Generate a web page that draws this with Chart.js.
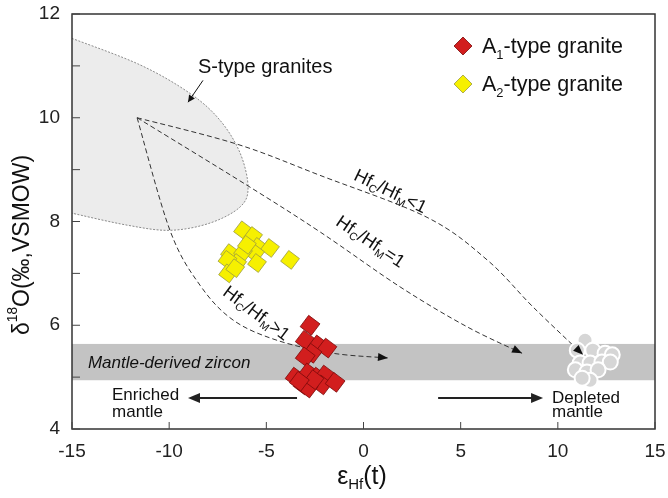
<!DOCTYPE html>
<html>
<head>
<meta charset="utf-8">
<script src="https://cdn.jsdelivr.net/npm/chart.js@4.4.0/dist/chart.umd.min.js"></script>
<style>
  html, body { margin: 0; padding: 0; background: #fff; }
  #wrap { width: 668px; height: 498px; }
</style>
</head>
<body>
<div id="wrap"><canvas id="chart" width="668" height="498"></canvas></div>
<script>
// A1-type granite zircons
const a1Hf = [-2.75, -3.0, -2.34, -1.88, -2.65, -3.0, -3.52, -2.85, -2.39, -1.98, -3.1, -2.13, -1.46, -2.85, -2.55, -3.3];
const a1O  = [6.0, 5.71, 5.62, 5.56, 5.46, 5.39, 5.0, 5.08, 5.0, 5.04, 4.85, 4.85, 4.9, 4.79, 4.95, 4.92];
// A2-type granite zircons
const a2Hf = [-6.2, -5.68, -5.43, -4.81, -5.58, -6.87, -6.2, -6.5, -5.48, -7.0, -6.97, -6.6, -3.78, -6.0];
const a2O  = [7.83, 7.72, 7.51, 7.49, 7.39, 7.39, 7.41, 7.2, 7.2, 7.26, 7.0, 7.1, 7.26, 7.55];
// depleted mantle zircons
const mantleHf = [11.4, 11.0, 11.8, 12.43, 12.8, 11.15, 11.66, 12.27, 12.7, 10.9, 11.5, 12.07, 11.66, 11.25];
const mantleO  = [5.71, 5.52, 5.52, 5.46, 5.43, 5.27, 5.27, 5.29, 5.29, 5.14, 5.1, 5.14, 4.94, 4.98];

// axes
const xTicks = [-15, -10, -5, 0, 5, 10, 15];
const yTicks = [4, 6, 8, 10, 12];
const yMinor = [5, 7, 9, 11];

// mantle-derived zircon band (d18O range)
const bandO = [4.94, 5.64];

// S-type granite field outline
const sTypeHf = [-15, -11.5, -8.93, -7.38, -6.35, -5.94, -6.35, -7.9, -9.96, -12.17, -15];
const sTypeO  = [11.53, 11.02, 10.47, 9.95, 9.32, 8.66, 8.28, 7.97, 7.83, 7.93, 8.16];

// mixing curves from the crustal end-member
const curveLtHf = [-11.65, -6.5, -2.24, 3.27, 6.36, 8.73, 11.3];
const curveLtO  = [10.0, 9.49, 8.89, 8.08, 7.26, 6.35, 5.43];
const curveEqHf = [-11.65, -6.0, -2.24, 1.88, 5.33, 8.16];
const curveEqO  = [10.0, 8.70, 7.80, 6.74, 5.97, 5.46];
const curveGtHf = [-11.65, -9.96, -8.41, -6.71, -4.45, -1.57, 1.26];
const curveGtO  = [10.0, 7.83, 6.77, 6.10, 5.71, 5.46, 5.37];

// enriched / depleted direction arrows [start, tip] in eHf, at d18O = arrowO
const enrichedArrow = [-3.42, -9.03];
const depletedArrow = [3.84, 9.24];
const arrowO = 4.6;

const FONT = '"Liberation Sans", Arial, sans-serif';

const pts = (xs, ys) => xs.map((x, i) => ({ x: x, y: ys[i] }));

// smooth path through points (Catmull-Rom -> bezier)
function smoothPath(ctx, p, move) {
  if (move) ctx.moveTo(p[0].x, p[0].y);
  for (let i = 0; i < p.length - 1; i++) {
    const p0 = p[i - 1] || p[i], p1 = p[i], p2 = p[i + 1], p3 = p[i + 2] || p2;
    ctx.bezierCurveTo(
      p1.x + (p2.x - p0.x) / 6, p1.y + (p2.y - p0.y) / 6,
      p2.x - (p3.x - p1.x) / 6, p2.y - (p3.y - p1.y) / 6,
      p2.x, p2.y);
  }
}

function arrowHead(ctx, from, to, len, half) {
  const a = Math.atan2(to.y - from.y, to.x - from.x);
  ctx.beginPath();
  ctx.moveTo(to.x, to.y);
  ctx.lineTo(to.x - len * Math.cos(a) + half * Math.sin(a), to.y - len * Math.sin(a) - half * Math.cos(a));
  ctx.lineTo(to.x - len * Math.cos(a) - half * Math.sin(a), to.y - len * Math.sin(a) + half * Math.cos(a));
  ctx.closePath();
  ctx.fill();
}

// text with sub/superscripts; parts = [[text, 'sub'|'sup'|null], ...]
function richText(ctx, parts, x, y, size, align, italic) {
  const style = italic ? 'italic ' : '';
  let w = 0;
  parts.forEach(p => {
    ctx.font = style + (p[1] ? size * 0.6 : size) + 'px ' + FONT;
    w += ctx.measureText(p[0]).width;
  });
  let cx = align === 'center' ? x - w / 2 : x;
  ctx.textAlign = 'left';
  parts.forEach(p => {
    const s = p[1] ? size * 0.6 : size;
    ctx.font = style + s + 'px ' + FONT;
    let dy = 0;
    if (p[1] === 'sub') dy = size * 0.3;
    if (p[1] === 'sup') dy = -size * 0.42;
    ctx.fillText(p[0], cx, y + dy);
    cx += ctx.measureText(p[0]).width;
  });
}

const decor = {
  id: 'decor',
  beforeDatasetsDraw(chart) {
    const ctx = chart.ctx, a = chart.chartArea;
    const X = v => chart.scales.x.getPixelForValue(v);
    const Y = v => chart.scales.y.getPixelForValue(v);
    ctx.save();
    ctx.beginPath();
    ctx.rect(a.left, a.top, a.right - a.left, a.bottom - a.top);
    ctx.clip();

    // mantle band
    ctx.fillStyle = '#c3c3c3';
    ctx.fillRect(a.left, Y(bandO[1]), a.right - a.left, Y(bandO[0]) - Y(bandO[1]));

    // S-type field
    const s = sTypeHf.map((v, i) => ({ x: X(v), y: Y(sTypeO[i]) }));
    ctx.beginPath();
    smoothPath(ctx, s, true);
    ctx.closePath();
    ctx.fillStyle = '#ececec';
    ctx.fill();
    ctx.beginPath();
    smoothPath(ctx, s, true);
    ctx.strokeStyle = '#8a8a8a';
    ctx.lineWidth = 1;
    ctx.setLineDash([2, 1.5]);
    ctx.stroke();

    // mixing curves
    ctx.strokeStyle = '#333';
    ctx.lineWidth = 1;
    ctx.setLineDash([5, 3]);
    [[curveLtHf, curveLtO], [curveEqHf, curveEqO], [curveGtHf, curveGtO]].forEach(c => {
      const p = c[0].map((v, i) => ({ x: X(v), y: Y(c[1][i]) }));
      ctx.beginPath();
      smoothPath(ctx, p, true);
      ctx.stroke();
    });
    ctx.restore();
  },
  afterDatasetsDraw(chart) {
    const ctx = chart.ctx, a = chart.chartArea;
    const X = v => chart.scales.x.getPixelForValue(v);
    const Y = v => chart.scales.y.getPixelForValue(v);
    ctx.save();

    // arrowheads on the mixing curves
    ctx.fillStyle = '#111';
    [[curveLtHf, curveLtO], [curveEqHf, curveEqO], [curveGtHf, curveGtO]].forEach(c => {
      const n = c[0].length;
      const to = { x: X(c[0][n - 1]), y: Y(c[1][n - 1]) };
      const from = { x: X(c[0][n - 1] - 0.3 * (c[0][n - 1] - c[0][n - 2])), y: Y(c[1][n - 1] - 0.3 * (c[1][n - 1] - c[1][n - 2])) };
      arrowHead(ctx, from, to, 10, 4);
    });

    // enriched / depleted arrows
    ctx.strokeStyle = '#222';
    ctx.fillStyle = '#222';
    ctx.lineWidth = 2;
    ctx.setLineDash([]);
    const ey = Y(arrowO);
    [enrichedArrow, depletedArrow].forEach(ar => {
      const from = { x: X(ar[0]), y: ey }, to = { x: X(ar[1]), y: ey };
      const back = to.x > from.x ? -10 : 10;
      ctx.beginPath(); ctx.moveTo(from.x, ey); ctx.lineTo(to.x + back, ey); ctx.stroke();
      arrowHead(ctx, from, to, 12, 5);
    });

    // S-type label + pointer
    ctx.fillStyle = '#111';
    ctx.textBaseline = 'alphabetic';
    richText(ctx, [['S-type granites']], X(-8.52), Y(10.86), 20, 'left');
    ctx.strokeStyle = '#111';
    ctx.lineWidth = 1;
    const sa = { x: X(-8.26), y: Y(10.72) }, sb = { x: X(-9.03), y: Y(10.30) };
    ctx.beginPath(); ctx.moveTo(sa.x, sa.y); ctx.lineTo(sb.x, sb.y); ctx.stroke();
    arrowHead(ctx, sa, sb, 7, 3.5);

    // curve labels
    ctx.textBaseline = 'middle';
    const rot = (parts, hf, o, deg) => {
      ctx.save();
      ctx.translate(X(hf), Y(o));
      ctx.rotate(deg * Math.PI / 180);
      richText(ctx, parts, 0, 0, 18, 'center');
      ctx.restore();
    };
    rot([['Hf'], ['C', 'sub'], ['/Hf'], ['M', 'sub'], ['<1']], 1.37, 8.57, 26);
    rot([['Hf'], ['C', 'sub'], ['/Hf'], ['M', 'sub'], ['=1']], 0.34, 7.60, 34);
    rot([['Hf'], ['C', 'sub'], ['/Hf'], ['M', 'sub'], ['>1']], -5.53, 6.22, 37);

    // band and end-member labels
    ctx.textBaseline = 'alphabetic';
    richText(ctx, [['Mantle-derived zircon']], X(-14.18), Y(5.18), 17, 'left', true);
    richText(ctx, [['Enriched']], X(-12.94), Y(4.56), 17, 'left');
    richText(ctx, [['mantle']], X(-12.94), Y(4.23), 17, 'left');
    richText(ctx, [['Depleted']], X(9.7), Y(4.5), 17, 'left');
    richText(ctx, [['mantle']], X(9.7), Y(4.23), 17, 'left');

    // legend
    const diamond = (cx, cy, fill, stroke) => {
      ctx.beginPath();
      ctx.moveTo(cx, cy - 9); ctx.lineTo(cx + 9, cy); ctx.lineTo(cx, cy + 9); ctx.lineTo(cx - 9, cy);
      ctx.closePath();
      ctx.fillStyle = fill; ctx.fill();
      ctx.strokeStyle = stroke; ctx.lineWidth = 0.8; ctx.stroke();
    };
    diamond(463, 46, '#d21e1e', '#7a0a0a');
    diamond(463, 84, '#f6f000', '#9a9a40');
    ctx.fillStyle = '#111';
    richText(ctx, [['A'], ['1', 'sub'], ['-type granite']], 482, 53, 21.5, 'left');
    richText(ctx, [['A'], ['2', 'sub'], ['-type granite']], 482, 91, 21.5, 'left');

    // frame
    ctx.strokeStyle = '#333';
    ctx.lineWidth = 1.5;
    ctx.strokeRect(a.left, a.top, a.right - a.left, a.bottom - a.top);

    // inward ticks
    ctx.lineWidth = 1;
    ctx.strokeStyle = '#444';
    xTicks.forEach(v => {
      ctx.beginPath(); ctx.moveTo(X(v), a.bottom); ctx.lineTo(X(v), a.bottom - 7); ctx.stroke();
    });
    yTicks.concat(yMinor).forEach(v => {
      ctx.beginPath(); ctx.moveTo(a.left, Y(v)); ctx.lineTo(a.left + 8, Y(v)); ctx.stroke();
    });

    // axis titles
    ctx.fillStyle = '#111';
    ctx.textBaseline = 'middle';
    ctx.save();
    ctx.translate(23, 245);
    ctx.rotate(-Math.PI / 2);
    richText(ctx, [['δ'], ['18', 'sup'], ['O(‰,VSMOW)']], 0, 0, 23, 'center');
    ctx.restore();
    richText(ctx, [['ε'], ['Hf', 'sub'], ['(t)']], 362, 477, 25, 'center');
    ctx.restore();
  }
};

new Chart(document.getElementById('chart'), {
  type: 'scatter',
  data: {
    datasets: [
      {
        label: 'Depleted mantle',
        data: pts(mantleHf, mantleO),
        pointStyle: 'circle',
        pointRadius: 7.5,
        backgroundColor: '#d6d6d6',
        borderColor: '#ffffff',
        borderWidth: 2
      },
      {
        label: 'A2-type granite',
        data: pts(a2Hf, a2O),
        pointStyle: 'rect',
        pointRotation: 37,
        pointRadius: 9.5,
        backgroundColor: '#f6f000',
        borderColor: '#9a9a40',
        borderWidth: 0.8
      },
      {
        label: 'A1-type granite',
        data: pts(a1Hf, a1O),
        pointStyle: 'rect',
        pointRotation: 37,
        pointRadius: 10,
        backgroundColor: '#d21e1e',
        borderColor: '#7a0a0a',
        borderWidth: 0.8
      }
    ]
  },
  options: {
    responsive: false,
    animation: false,
    devicePixelRatio: 1,
    layout: { padding: { left: 0, top: 14, right: 13, bottom: 0 } },
    plugins: { legend: { display: false }, tooltip: { enabled: false } },
    scales: {
      x: {
        type: 'linear', min: -15, max: 15,
        afterBuildTicks: s => { s.ticks = xTicks.map(v => ({ value: v })); },
        afterFit: s => { s.height = 69; s.paddingLeft = 0; s.paddingRight = 0; },
        grid: { display: false, drawTicks: false },
        border: { display: false },
        ticks: { color: '#222', padding: 11, font: { family: FONT, size: 19 } }
      },
      y: {
        type: 'linear', min: 4, max: 12,
        afterBuildTicks: s => { s.ticks = yTicks.map(v => ({ value: v })); },
        afterFit: s => { s.width = 72; s.paddingTop = 0; s.paddingBottom = 0; },
        grid: { display: false, drawTicks: false },
        border: { display: false },
        ticks: { color: '#222', padding: 12, font: { family: FONT, size: 19 } }
      }
    }
  },
  plugins: [decor]
});
</script>
</body>
</html>
